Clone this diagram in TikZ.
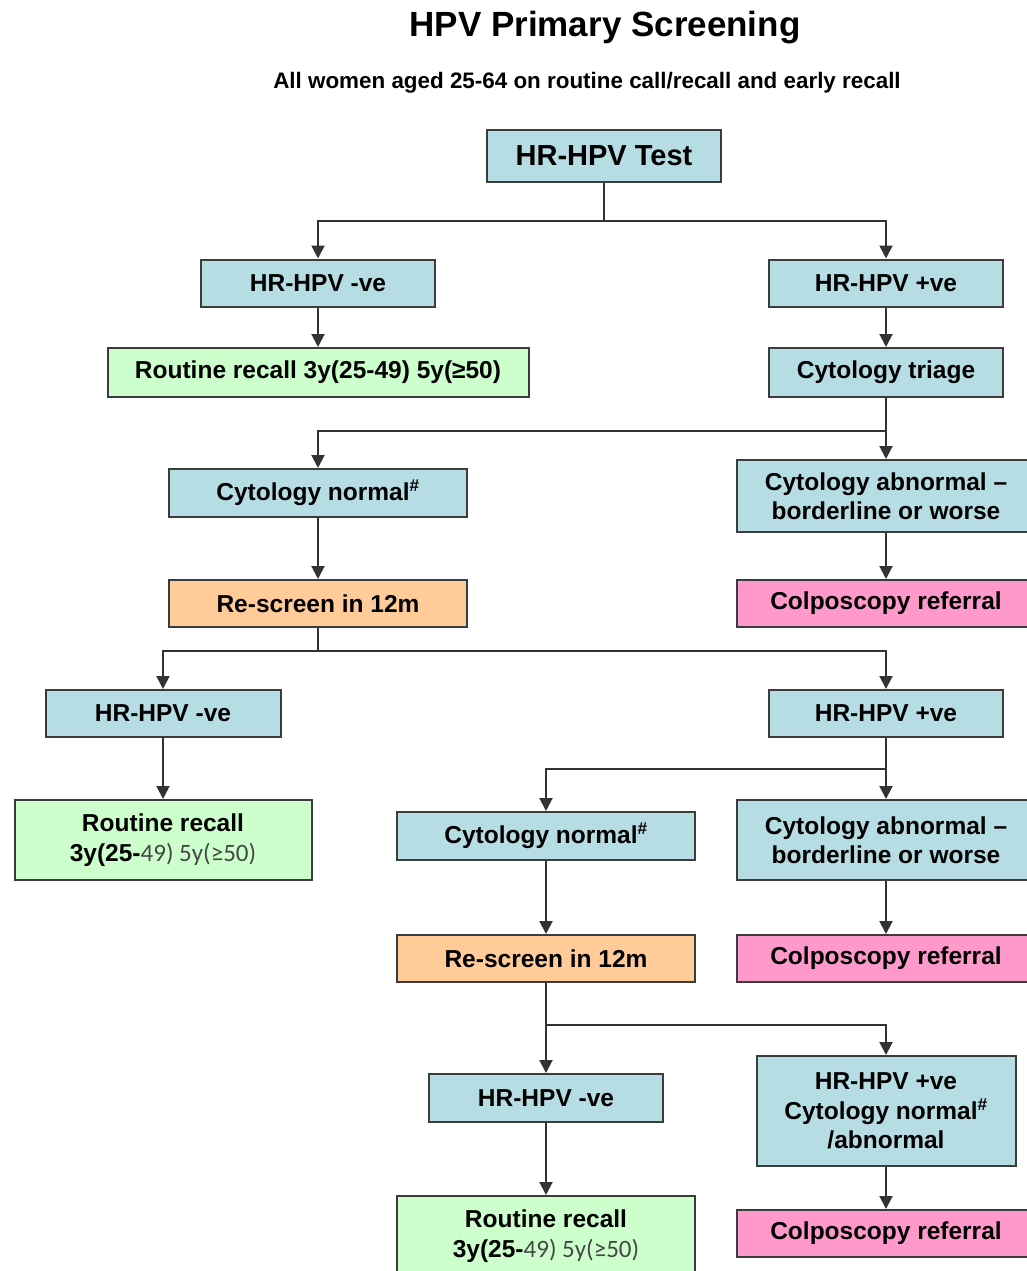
\documentclass[tikz,border=0pt]{standalone}
\usepackage{fontspec}
\setmainfont{Liberation Sans}
\newfontfamily\lightface{Carlito}
\usetikzlibrary{arrows.meta}

\definecolor{hpvfill}{RGB}{183,221,228}
\definecolor{recallfill}{RGB}{204,255,204}
\definecolor{rescreenfill}{RGB}{255,204,153}
\definecolor{referfill}{RGB}{255,153,204}
\definecolor{boxedge}{RGB}{60,60,60}
\definecolor{lighttext}{RGB}{70,70,70}

\newcommand{\agetail}{{\lightface\mdseries\fontsize{25}{29.5}\selectfont\color{lighttext}49) 5y(≥50)}}
\newcommand{\hashmark}{\textsuperscript{\#}}

\begin{document}
\begin{tikzpicture}[x=1pt,y=-1pt,
  box/.style={draw=boxedge,line width=2pt,inner sep=0pt,align=center,
    font=\bfseries\fontsize{24.5}{29.5}\selectfont,minimum height=47pt},
  hpvbox/.style={box,fill=hpvfill},
  recallbox/.style={box,fill=recallfill},
  rescreenbox/.style={box,fill=rescreenfill,minimum width=298pt},
  referbox/.style={box,fill=referfill,minimum width=298pt},
  link/.style={line width=2pt,draw=black!80},
  flow/.style={link,-{Triangle[length=13pt,width=13pt]}}]
\useasboundingbox (0,0) rectangle (1027,1271);

\node[font=\bfseries\fontsize{35}{40}\selectfont] (title) at (605,28) {HPV Primary Screening};
\node[font=\bfseries\fontsize{22.4}{26}\selectfont] (subtitle) at (587,83) {All women aged 25-64 on routine call/recall and early recall};

\node[hpvbox,minimum width=234pt,minimum height=52pt,font=\bfseries\fontsize{29}{34}\selectfont] (test) at (604,156) {HR-HPV Test};
\node[hpvbox,minimum width=234pt] (neg1) at (318,283) {HR-HPV -ve};
\node[hpvbox,minimum width=234pt] (pos1) at (886,283) {HR-HPV +ve};
\node[recallbox,minimum width=421pt,minimum height=49pt] (recall1) at (318,372.5) {Routine recall 3y(25-49) 5y(≥50)};
\node[hpvbox,minimum width=234pt,minimum height=49pt] (triage1) at (886,372.5) {Cytology triage};

\node[hpvbox,minimum width=298pt,minimum height=48pt] (cytnorm1) at (318,493) {Cytology normal\hashmark};
\node[hpvbox,minimum width=298pt,minimum height=72pt] (cytab1) at (886,496) {Cytology abnormal --\\borderline or worse};
\node[rescreenbox] (rescreen1) at (318,603.5) {Re-screen in 12m};
\node[referbox] (colpo1) at (886,603.5) {Colposcopy referral};

\node[hpvbox,minimum width=235pt] (neg2) at (163,713.5) {HR-HPV -ve};
\node[hpvbox,minimum width=234pt] (pos2) at (886,713.5) {HR-HPV +ve};
\node[recallbox,minimum width=297pt,minimum height=80pt] (recall2) at (163,840) {Routine recall\\3y(25-\agetail};
\node[hpvbox,minimum width=298pt,minimum height=48pt] (cytnorm2) at (546,836) {Cytology normal\hashmark};
\node[hpvbox,minimum width=298pt,minimum height=80pt] (cytab2) at (886,840) {Cytology abnormal --\\borderline or worse};
\node[rescreenbox] (rescreen2) at (546,958.5) {Re-screen in 12m};
\node[referbox] (colpo2) at (886,958.5) {Colposcopy referral};

\node[hpvbox,minimum width=234pt,minimum height=48pt] (neg3) at (546,1098) {HR-HPV -ve};
\node[hpvbox,minimum width=259pt,minimum height=110pt] (pos3) at (886,1111) {HR-HPV +ve\\Cytology normal\hashmark\\/abnormal};
\node[recallbox,minimum width=298pt,minimum height=80pt] (recall3) at (546,1236) {Routine recall\\3y(25-\agetail};
\node[referbox] (colpo3) at (886,1233.5) {Colposcopy referral};

\draw[link] (test.south) -- ++(0,38) coordinate (fork1);
\draw[flow] (fork1) -| (neg1.north);
\draw[flow] (fork1) -| (pos1.north);
\draw[flow] (neg1.south) -- (recall1.north);
\draw[flow] (pos1.south) -- (triage1.north);

\draw[link] (triage1.south) -- ++(0,33) coordinate (fork2);
\draw[flow] (fork2) -| (cytnorm1.north);
\draw[flow] (fork2) -- (cytab1.north);
\draw[flow] (cytnorm1.south) -- (rescreen1.north);
\draw[flow] (cytab1.south) -- (colpo1.north);

\draw[link] (rescreen1.south) -- ++(0,23) coordinate (fork3);
\draw[flow] (fork3) -| (neg2.north);
\draw[flow] (fork3) -| (pos2.north);
\draw[flow] (neg2.south) -- (recall2.north);

\draw[link] (pos2.south) -- ++(0,31) coordinate (fork4);
\draw[flow] (fork4) -| (cytnorm2.north);
\draw[flow] (fork4) -- (cytab2.north);
\draw[flow] (cytnorm2.south) -- (rescreen2.north);
\draw[flow] (cytab2.south) -- (colpo2.north);

\draw[link] (rescreen2.south) -- ++(0,42) coordinate (fork5);
\draw[flow] (fork5) -- (neg3.north);
\draw[flow] (fork5) -| (pos3.north);
\draw[flow] (neg3.south) -- (recall3.north);
\draw[flow] (pos3.south) -- (colpo3.north);
\end{tikzpicture}
\end{document}
